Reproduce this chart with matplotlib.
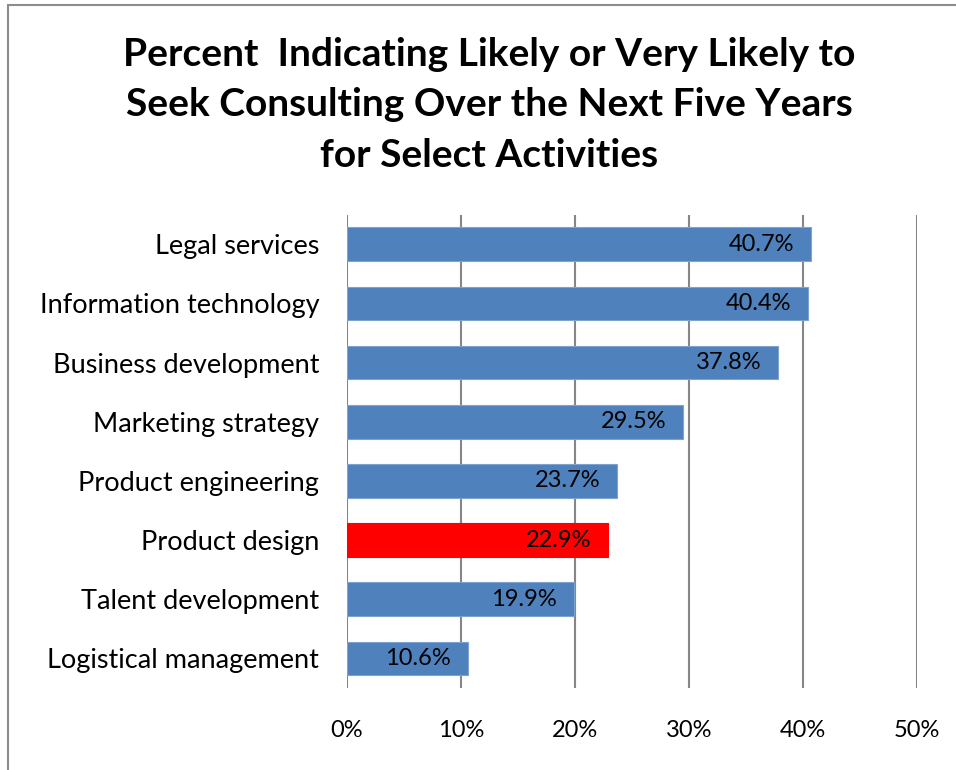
import matplotlib.pyplot as plt
import matplotlib.patches as mpatches

plt.rcParams['font.family'] = ['Lato', 'DejaVu Sans']

# data (top to bottom as shown)
categories = ["Legal services", "Information technology", "Business development",
              "Marketing strategy", "Product engineering", "Product design",
              "Talent development", "Logistical management"]
values = [40.7, 40.4, 37.8, 29.5, 23.7, 22.9, 19.9, 10.6]
highlight = "Product design"
xticks = [0, 10, 20, 30, 40, 50]
xtick_labels = ["0%", "10%", "20%", "30%", "40%", "50%"]
title = "Percent  Indicating Likely or Very Likely to\nSeek Consulting Over the Next Five Years\nfor Select Activities"

fig = plt.figure(figsize=(9.56, 7.70), dpi=100)
ax = fig.add_axes([347/956, 1 - 688/770, 570/956, (688 - 214.7)/770])

colors = ["#FF0000" if c == highlight else "#4F81BD" for c in categories]
edges = ["#FF0000" if c == highlight else "#7FA3CF" for c in categories]
ypos = list(range(len(categories)))[::-1]
bars = ax.barh(ypos, values, height=0.57, color=colors, edgecolor=edges, linewidth=0.8, zorder=3)

for b, v in zip(bars, values):
    ax.annotate(f"{v:.1f}%", (b.get_width(), b.get_y() + b.get_height()/2),
                xytext=(-12, 0), textcoords="offset points",
                ha="right", va="center", fontsize=17, color="black", zorder=4)

ax.set_xlim(0, 50)
ax.set_ylim(-0.5, len(categories) - 0.5)
ax.set_xticks(xticks)
ax.set_xticklabels(xtick_labels, fontsize=17)
ax.set_yticks(ypos)
ax.set_yticklabels(categories, fontsize=19.5)
ax.tick_params(axis="both", length=0)
ax.tick_params(axis="y", pad=20)
ax.tick_params(axis="x", pad=23)
ax.grid(axis="x", color="#868686", linewidth=1.5, zorder=0)
for s in ax.spines.values():
    s.set_visible(False)

fig.text(0.512, 1 - 105/770, title, ha="center", va="center", fontsize=28,
         fontweight="bold", linespacing=1.52)

# outer chart border (only left/top are inside the image)
fig.patches.append(mpatches.Rectangle((8/956, -0.1), 1.2, 1.1 - 5/770,
                                      transform=fig.transFigure, fill=False,
                                      edgecolor="#8C8C8C", linewidth=1.5))

plt.savefig("out.png", dpi=100)
